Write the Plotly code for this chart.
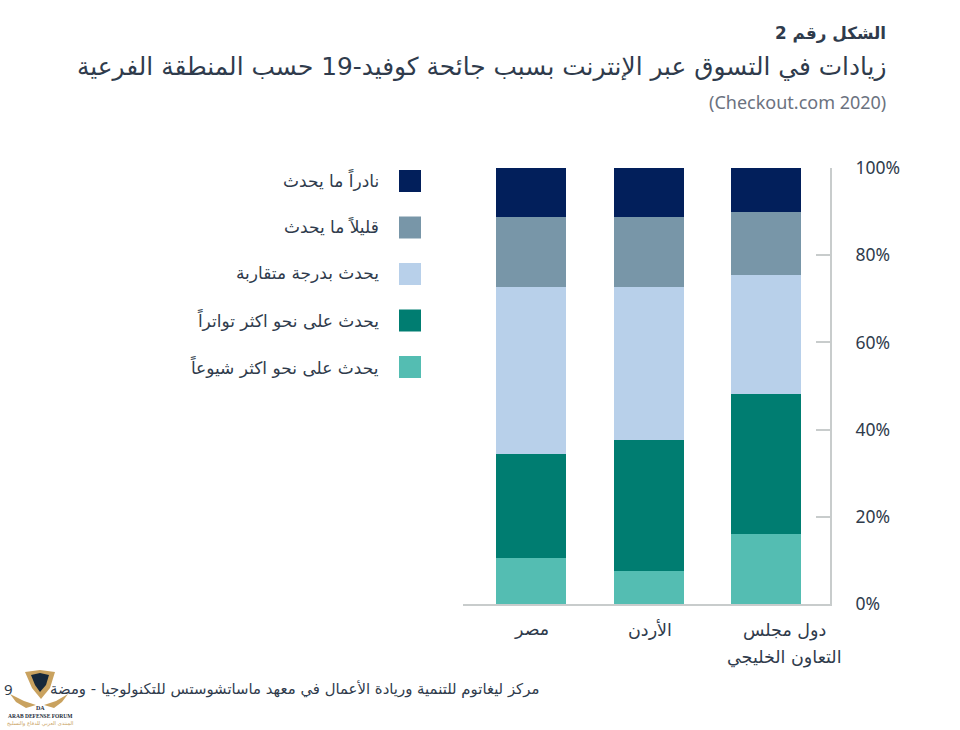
import plotly.graph_objects as go

categories = ["مصر", "الأردن", "دول مجلس التعاون الخليجي"]
series_names = ["يحدث على نحو اكثر شيوعاً", "يحدث على نحو اكثر تواتراً", "يحدث بدرجة متقاربة", "قليلاً ما يحدث", "نادراً ما يحدث"]
more_common = [10.5, 7.6, 16.0]
more_frequent = [23.9, 30.0, 32.2]
about_same = [38.3, 35.1, 27.3]
seldom = [16.1, 16.1, 14.5]
rarely = [11.2, 11.2, 10.0]
series_values = [more_common, more_frequent, about_same, seldom, rarely]
series_colors = ["#54BDB2", "#007D71", "#B8D0EA", "#7896A8", "#021F5B"]
tick_vals = [0, 20, 40, 60, 80, 100]
tick_text = ["0%", "20%", "40%", "60%", "80%", "100%"]

W, H = 960, 730
ML, MR, MT, MB = 463, 130, 168, 126
ARABIC = "DejaVu Sans, sans-serif"
LATIN = "Noto Sans, Open Sans, DejaVu Sans, sans-serif"
INK = "#2F3B4C"

fig = go.Figure()
for name, vals, color in zip(series_names, series_values, series_colors):
    fig.add_bar(x=categories, y=vals, name=name, marker=dict(color=color, line=dict(width=0)))

def px(x):
    return (x - ML) / (W - ML - MR)

def py(y):
    return (H - MB - y) / (H - MT - MB)

annotations = []
shapes = []

def text(s, x, y, size, anchor="right", color=INK, family=ARABIC):
    annotations.append(dict(text=s, x=px(x), y=py(y), xref="paper", yref="paper", xanchor=anchor,
                            yanchor="middle", showarrow=False, align=anchor,
                            font=dict(size=size, color=color, family=family)))

text("<b>الشكل رقم 2</b>", 888, 33, 16.8)
text("زيادات في التسوق عبر الإنترنت بسبب جائحة كوفيد-19 حسب المنطقة الفرعية", 888, 67, 24.8)
text("(Checkout.com 2020)", 888, 102, 18, color="#6B7280", family=LATIN)

# legend, top to bottom
for i, (name, color) in enumerate(zip(reversed(series_names), reversed(series_colors))):
    yc = 181 + i * 46.5
    text(name, 381, yc - 1, 17)
    shapes.append(dict(type="rect", xref="paper", yref="paper", x0=px(399), x1=px(421),
                       y0=py(yc - 11), y1=py(yc + 11), fillcolor=color, line=dict(width=0)))

# category labels
text(categories[0], 531, 629, 17.5, anchor="center")
text(categories[1], 650, 629, 17.5, anchor="center")
text("دول مجلس", 784, 630, 17.5, anchor="center")
text("التعاون الخليجي", 784, 657, 17.5, anchor="center")

# footer and watermark
text("مركز ليغاتوم للتنمية وريادة الأعمال في معهد ماساتشوستس للتكنولوجيا - ومضة", 541, 689, 14.9)
text("9", 2, 689, 15, anchor="left", family=LATIN)
text("<b>DA</b>", 40, 708, 6, anchor="center", color="#1D2B3A", family="Liberation Serif")
text("<b>ARAB DEFENSE FORUM</b>", 40, 716, 5.5, anchor="center", color="#1D2B3A", family="Liberation Serif")
text("المنتدى العربي للدفاع والتسليح", 40, 723, 5.2, anchor="center", color="#C9A25F")

def logo_path(points):
    return "M " + " L ".join(f"{px(x):.5f},{py(y):.5f}" for x, y in points) + " Z"

for pts, col in [
    ([(25, 672), (40, 670), (55, 672), (50, 688), (41, 699), (32, 688)], "#C9A25F"),
    ([(31, 675), (40, 673), (49, 675), (46, 685), (40, 692), (35, 685)], "#16283A"),
    ([(10, 694), (24, 701), (36, 705), (26, 708), (16, 702)], "#C9A25F"),
    ([(68, 694), (56, 701), (44, 705), (54, 708), (62, 702)], "#C9A25F"),
]:
    shapes.append(dict(type="path", xref="paper", yref="paper", fillcolor=col, line=dict(width=0),
                       path=logo_path(pts)))

fig.update_layout(
    width=W, height=H, autosize=False, barmode="stack", bargap=0.404, showlegend=False,
    paper_bgcolor="white", plot_bgcolor="white",
    margin=dict(l=ML, r=MR, t=MT, b=MB),
    annotations=annotations, shapes=shapes,
    xaxis=dict(type="category", categoryorder="array", categoryarray=categories,
               range=[-0.58, 2.545], showticklabels=False, ticks="", showgrid=False,
               showline=True, linecolor="#C8CCCC", linewidth=2, zeroline=False),
    yaxis=dict(side="right", range=[0, 100], tickvals=tick_vals, ticktext=tick_text,
               ticks="inside", ticklen=14, tickcolor="#C8CCCC", tickwidth=2,
               showline=True, linecolor="#C8CCCC", linewidth=2, showgrid=False, zeroline=False,
               ticklabelstandoff=20, tickfont=dict(size=17.5, color=INK, family=LATIN)),
)

fig.write_html("out.html", config=dict(displayModeBar=False), post_script="document.body.style.margin='0';")
